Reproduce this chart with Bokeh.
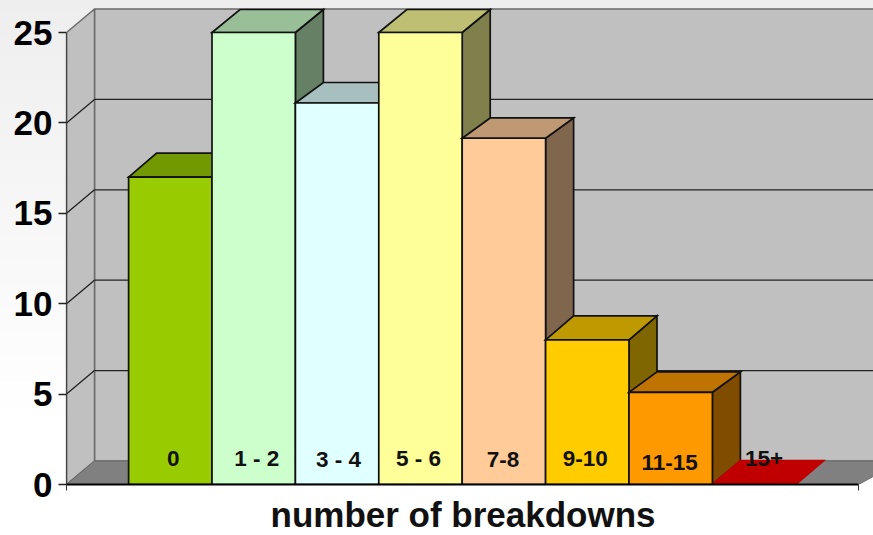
from bokeh.core.properties import value
from bokeh.embed import file_html
from bokeh.models import ColumnDataSource, FixedTicker, Range1d, Title
from bokeh.plotting import figure
from bokeh.resources import INLINE

# Survey counts per breakdown bucket
categories = ["0", "1 - 2", "3 - 4", "5 - 6", "7-8", "9-10", "11-15", "15+"]
counts = [17, 25, 21.1, 25, 19.15, 8, 5.1, 0]
y_ticks = [0, 5, 10, 15, 20, 25]
axis_title = "number of breakdowns"

# Colours of each bar's three visible faces
front_colors = ["#99CC00", "#CCFFCC", "#E0FFFF", "#FFFF99", "#FFCC99", "#FFCC00", "#FF9900", "#C00000"]
top_colors = ["#739900", "#99BF99", "#A8BFBF", "#BFBF73", "#BF9973", "#BF9900", "#BF7300", "#C00000"]
side_colors = ["#668000", "#668066", "#708080", "#80804D", "#80664D", "#806600", "#804D00", "#600000"]

# Small per-label shifts in screen pixels (x, y)
label_dx = [3, 3, 1.5, -2, -1, -2, -1, 10]
label_dy = [0, 0, 1, 0, 1, 0, 4, 0]

# Vertical depth of each bar's top face, in pixels
top_depth_px = [24, 23, 20.5, 23, 20.3, 24, 20.4, 24]

# Scale of the frame and oblique depth of the 3D box
PX_PER_BAR = 83.4
PX_PER_UNIT = 18.08
LEFT_PX, RIGHT_PX, BOTTOM_PX = 66, 873, 484
FIRST_BAR_PX = 128.1
DX = 28 / PX_PER_BAR
DY = 23.5 / PX_PER_UNIT

x_start = (LEFT_PX - FIRST_BAR_PX) / PX_PER_BAR
x_axis_end = (858 - FIRST_BAR_PX) / PX_PER_BAR
x_end = (RIGHT_PX - FIRST_BAR_PX) / PX_PER_BAR
y_top = max(y_ticks)

p = figure(
    width=873, height=535,
    frame_width=RIGHT_PX - LEFT_PX, frame_height=BOTTOM_PX,
    x_range=Range1d(x_start, x_end),
    y_range=Range1d(0, BOTTOM_PX / PX_PER_UNIT),
    min_border_left=LEFT_PX, min_border_right=0, min_border_top=0, min_border_bottom=535 - BOTTOM_PX,
    output_backend="svg", toolbar_location=None,
    background_fill_color=None, border_fill_color=None,
    outline_line_color=None,
)
p.styles = {"background": "linear-gradient(#eeeeee 0%, #ffffff 78%)"}
p.grid.visible = False

# Walls and floor of the chart box
wall_line = "#6A6A6A"
p.patch([x_start + DX, x_end + DX, x_end + DX, x_start + DX],
        [DY, DY, y_top + DY, y_top + DY], fill_color="#C0C0C0", line_color=wall_line, line_width=1.5)
p.patch([x_start, x_start + DX, x_start + DX, x_start],
        [0, DY, y_top + DY, y_top],
        fill_color="#C0C0C0", line_color=wall_line, line_width=1.5)
p.patch([x_start, x_start + DX, x_end + DX, x_axis_end],
        [0, DY, DY, 0], fill_color="#808080", line_color=wall_line, line_width=1)

# Gridlines run along the side wall, then across the back wall
for tick in y_ticks[1:-1]:
    p.line([x_start, x_start + DX, x_end], [tick, tick + DY, tick + DY], line_color="#222222", line_width=1.3)

# Each bar draws side, top, front; left-to-right order gives correct overlap
for i, v in enumerate(counts):
    xl, xr = i, i + 1
    back = v + top_depth_px[i] / PX_PER_UNIT
    faces = [
        ([xr, xr + DX, xr + DX, xr], [0, DY, back, v], side_colors[i]),
        ([xl, xr, xr + DX, xl + DX], [v, v, back, back], top_colors[i]),
        ([xl, xr, xr, xl], [0, 0, v, v], front_colors[i]),
    ]
    if v == 0:
        faces = faces[1:2]
    for xs, ys, color in faces:
        outline = color if v == 0 else "#111111"
        p.patch(xs, ys, fill_color=color, line_color=outline, line_width=1.7, line_join="miter")

# Bucket names sit at the foot of the bars
labels = ColumnDataSource(dict(
    x=[i + 0.5 for i in range(len(categories))],
    y=[0] * len(categories),
    text=categories,
    dx=label_dx,
    dy=[d - 26 for d in label_dy],
))
p.text("x", "y", text="text", source=labels, x_offset="dx", y_offset="dy",
       text_align="center", text_baseline="middle",
       text_font=value("Liberation Sans"), text_font_style="bold",
       text_font_size="22.5px", text_color="#111111")

p.yaxis.bounds = (0, y_top)
p.yaxis.ticker = FixedTicker(ticks=y_ticks)
p.yaxis.minor_tick_line_color = None
p.yaxis.major_tick_out = 8
p.yaxis.major_tick_in = 0
p.yaxis.major_tick_line_color = "#222222"
p.yaxis.major_tick_line_width = 1.3
p.yaxis.axis_line_color = "#444444"
p.yaxis.axis_line_width = 1.3
p.yaxis.major_label_standoff = 6
p.yaxis.major_label_text_font = "Liberation Sans"
p.yaxis.major_label_text_font_style = "bold"
p.yaxis.major_label_text_font_size = "35px"
p.yaxis.major_label_text_color = "#000000"

p.xaxis.bounds = (x_start, x_axis_end)
p.xaxis.ticker = FixedTicker(ticks=[x_start, x_axis_end])
p.xaxis.major_label_text_font_size = "0px"
p.xaxis.major_label_text_color = None
p.xaxis.minor_tick_line_color = None
p.xaxis.major_tick_out = 6
p.xaxis.major_tick_in = 0
p.xaxis.major_tick_line_color = "#333333"
p.xaxis.axis_line_color = "#000000"
p.xaxis.axis_line_width = 1.8

# Axis title placed under the axis span rather than centred on the wider frame
p.add_layout(Title(
    text=axis_title, align="left", offset=204, standoff=5,
    text_font="Liberation Sans", text_font_style="bold", text_font_size="35px",
    text_color="#111111",
), "below")

open("out.html", "w").write(file_html(p, INLINE))
